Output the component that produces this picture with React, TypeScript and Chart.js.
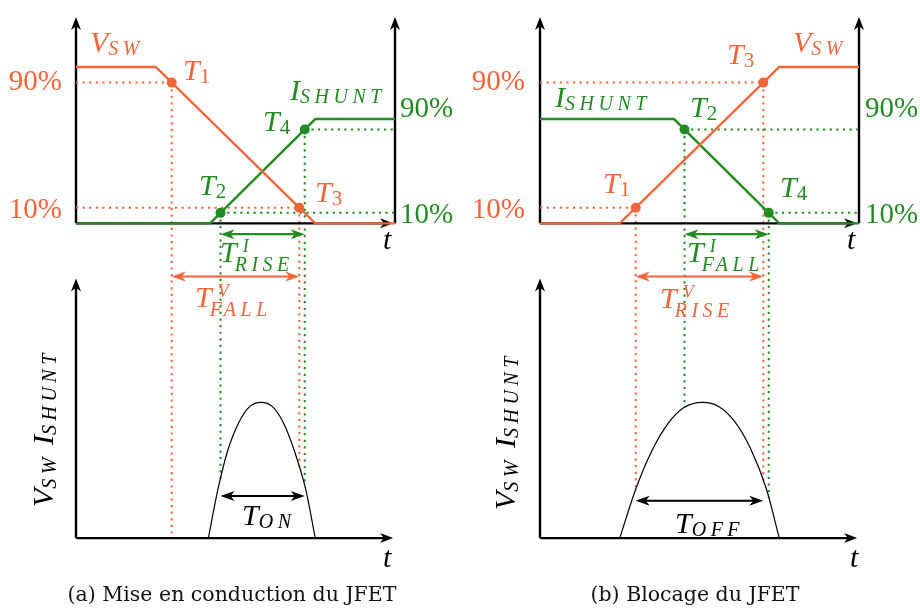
import React, { useEffect, useRef } from "react";
import { Chart, registerables } from "chart.js";

Chart.register(...registerables);

const ORANGE = "#F26539";
const GREEN = "#228B22";
const BLACK = "#000000";

// time axis (arbitrary units)
const TIME_MIN = 0;
const TIME_MAX = 10;
const LEVEL_LABELS = ["90%", "10%"];

// ---------- (a) Mise en conduction ----------
const onVswTime = [0, 2.5, 7.5, 10];
const onVswLevel = [1, 1, 0, 0];
const onIshuntTime = [0, 4.2, 7.5, 10];
const onIshuntLevel = [0, 0, 0.667, 0.667];
const onMarkNames = ["1", "2", "3", "4"];
const onMarkTime = [3.0, 4.53, 7.0, 7.17];
const onMarkLevel = [0.9, 0.067, 0.1, 0.6];
const onMarkSignal = ["V", "I", "V", "I"];
const onLossTime = [4.15, 4.45, 4.75, 5.1, 5.45, 5.8, 6.15, 6.5, 6.85, 7.2, 7.5];
const onLossLevel = [0, 0.36, 0.64, 0.85, 0.97, 1, 0.97, 0.85, 0.64, 0.36, 0];

// ---------- (b) Blocage ----------
const offVswTime = [0, 2.5, 7.5, 10];
const offVswLevel = [0, 0, 1, 1];
const offIshuntTime = [0, 4.2, 7.5, 10];
const offIshuntLevel = [0.667, 0.667, 0, 0];
const offMarkNames = ["1", "2", "3", "4"];
const offMarkTime = [3.0, 4.53, 7.0, 7.17];
const offMarkLevel = [0.1, 0.6, 0.9, 0.067];
const offMarkSignal = ["V", "I", "V", "I"];
const offLossTime = [2.5, 3.0, 3.5, 4.0, 4.5, 5.1, 5.6, 6.1, 6.6, 7.1, 7.5];
const offLossLevel = [0, 0.36, 0.64, 0.84, 0.96, 1, 0.97, 0.86, 0.66, 0.36, 0];

const SERIF = "'Liberation Serif', serif";
const MAIN = 30;
const SUBSZ = 20;
const SUPSZ = 18;

function setFont(ctx: CanvasRenderingContext2D, size: number, italic: boolean) {
  ctx.font = `${italic ? "italic " : ""}${size}px ${SERIF}`;
}

function drawSym(
  ctx: CanvasRenderingContext2D,
  x: number,
  y: number,
  base: string,
  sub: string | undefined,
  sup: string | undefined,
  color: string
): number {
  ctx.save();
  ctx.fillStyle = color;
  ctx.textAlign = "left";
  ctx.textBaseline = "alphabetic";
  (ctx as any).letterSpacing = "0px";
  setFont(ctx, MAIN, true);
  ctx.fillText(base, x, y);
  const w = ctx.measureText(base).width;
  let end = x + w;
  if (sup) {
    setFont(ctx, SUPSZ, true);
    const ux = x + w + 6;
    ctx.fillText(sup, ux, y - 10);
    end = Math.max(end, ux + ctx.measureText(sup).width);
  }
  if (sub) {
    const digit = /^[0-9]+$/.test(sub);
    setFont(ctx, digit ? 21 : SUBSZ, !digit);
    (ctx as any).letterSpacing = digit ? "0px" : "4.5px";
    const sx = x + w + (sup ? -2 : 0);
    ctx.fillText(sub, sx, y + (sup ? 9 : 3));
    end = Math.max(end, sx + ctx.measureText(sub).width);
  }
  ctx.restore();
  return end - x;
}

function drawHead(
  ctx: CanvasRenderingContext2D,
  x: number,
  y: number,
  ux: number,
  uy: number,
  len = 13,
  half = 5
) {
  const px = -uy;
  const py = ux;
  ctx.beginPath();
  ctx.moveTo(x, y);
  ctx.lineTo(x - ux * len + px * half, y - uy * len + py * half);
  ctx.lineTo(x - ux * len * 0.72, y - uy * len * 0.72);
  ctx.lineTo(x - ux * len - px * half, y - uy * len - py * half);
  ctx.closePath();
  ctx.fill();
}

function interp(ts: number[], vs: number[], t: number) {
  if (t <= ts[0] || t >= ts[ts.length - 1]) return 0;
  for (let i = 0; i < ts.length - 1; i++) {
    if (t >= ts[i] && t <= ts[i + 1]) {
      const f = (t - ts[i]) / (ts[i + 1] - ts[i]);
      return vs[i] + f * (vs[i + 1] - vs[i]);
    }
  }
  return 0;
}

type Panel = {
  id: string;
  padLeft: number;
  padRight: number;
  vTime: number[];
  vLevel: number[];
  iTime: number[];
  iLevel: number[];
  markNames: string[];
  markTime: number[];
  markLevel: number[];
  markSignal: string[];
  lossTime: number[];
  lossLevel: number[];
  iArrow: { from: number; to: number; level: number; sub: string; at: [number, number] };
  vArrow: { from: number; to: number; level: number; sub: string; at: [number, number] };
  lossArrow: { from: number; to: number; level: number; sub: string; at: [number, number] };
  markLabelAt: [number, number][];
  vNameAt: [number, number];
  iNameAt: [number, number];
  pctVx: number;
  pctIx: number;
  pctVy: number[];
  pctIy: number[];
  tTopAt: [number, number];
  tBotAt: [number, number];
  yLabelAt: [number, number];
  caption: string;
  captionX: number;
};

const panels: Panel[] = [
  {
    id: "a",
    padLeft: 76,
    padRight: 65,
    vTime: onVswTime,
    vLevel: onVswLevel,
    iTime: onIshuntTime,
    iLevel: onIshuntLevel,
    markNames: onMarkNames,
    markTime: onMarkTime,
    markLevel: onMarkLevel,
    markSignal: onMarkSignal,
    lossTime: onLossTime,
    lossLevel: onLossLevel,
    iArrow: { from: 1, to: 3, level: -0.069, sub: "RISE", at: [220, 262] },
    vArrow: { from: 0, to: 2, level: -0.34, sub: "FALL", at: [195, 307] },
    lossArrow: { from: 1, to: 3, level: 0.31, sub: "ON", at: [242, 525] },
    markLabelAt: [
      [183, 80],
      [199, 195],
      [315, 202],
      [263, 131],
    ],
    vNameAt: [90, 52],
    iNameAt: [290, 100],
    pctVx: 62,
    pctIx: 400,
    pctVy: [90, 218],
    pctIy: [117, 223],
    tTopAt: [383, 249],
    tBotAt: [383, 567],
    yLabelAt: [53, 507],
    caption: "(a) Mise en conduction du JFET",
    captionX: 232,
  },
  {
    id: "b",
    padLeft: 80,
    padRight: 61,
    vTime: offVswTime,
    vLevel: offVswLevel,
    iTime: offIshuntTime,
    iLevel: offIshuntLevel,
    markNames: offMarkNames,
    markTime: offMarkTime,
    markLevel: offMarkLevel,
    markSignal: offMarkSignal,
    lossTime: offLossTime,
    lossLevel: offLossLevel,
    iArrow: { from: 1, to: 3, level: -0.069, sub: "FALL", at: [227, 262] },
    vArrow: { from: 0, to: 2, level: -0.34, sub: "RISE", at: [200, 308] },
    lossArrow: { from: 0, to: 2, level: 0.275, sub: "OFF", at: [215, 533] },
    markLabelAt: [
      [143, 193],
      [230, 117],
      [267, 64],
      [320, 197],
    ],
    vNameAt: [333, 52],
    iNameAt: [95, 107],
    pctVx: 65,
    pctIx: 405,
    pctVy: [90, 218],
    pctIy: [117, 223],
    tTopAt: [387, 249],
    tBotAt: [390, 567],
    yLabelAt: [55, 510],
    caption: "(b) Blocage du JFET",
    captionX: 235,
  },
];

function makePlugin(p: Panel) {
  return {
    id: "switching_" + p.id,
    beforeDatasetsDraw(chart: any) {
      const ctx: CanvasRenderingContext2D = chart.ctx;
      const x = chart.scales.x;
      const yT = chart.scales.yTop;
      const yB = chart.scales.yBot;
      ctx.save();
      ctx.lineWidth = 2;
      ctx.setLineDash([2.2, 4.4]);
      p.markTime.forEach((t, i) => {
        ctx.strokeStyle = p.markSignal[i] === "V" ? ORANGE : GREEN;
        const px = x.getPixelForValue(t);
        ctx.beginPath();
        ctx.moveTo(px, yT.getPixelForValue(p.markLevel[i]));
        ctx.lineTo(px, yB.getPixelForValue(interp(p.lossTime, p.lossLevel, t)));
        ctx.stroke();
      });
      ctx.restore();

      ctx.save();
      ctx.strokeStyle = BLACK;
      ctx.fillStyle = BLACK;
      ctx.lineWidth = 2.4;
      const x0 = x.getPixelForValue(TIME_MIN);
      const x1 = x.getPixelForValue(TIME_MAX);
      const xTip = x.getPixelForValue(9.94);
      const yTop0 = yT.getPixelForValue(0);
      const yTopTip = yT.getPixelForValue(1.32);
      const yBot0 = yB.getPixelForValue(0);
      const yBotTip = yB.getPixelForValue(1.913);
      const line = (ax: number, ay: number, bx: number, by: number) => {
        ctx.beginPath();
        ctx.moveTo(ax, ay);
        ctx.lineTo(bx, by);
        ctx.stroke();
      };
      line(x0, yTop0, x0, yTopTip + 8);
      drawHead(ctx, x0, yTopTip, 0, -1);
      line(x1, yTop0, x1, yTopTip + 8);
      drawHead(ctx, x1, yTopTip, 0, -1);
      line(x0, yTop0, xTip - 8, yTop0);
      drawHead(ctx, xTip, yTop0, 1, 0);
      line(x0, yBot0, x0, yBotTip + 8);
      drawHead(ctx, x0, yBotTip, 0, -1);
      line(x0, yBot0, xTip - 8, yBot0);
      drawHead(ctx, xTip, yBot0, 1, 0);
      ctx.restore();
    },
    afterDatasetsDraw(chart: any) {
      const ctx: CanvasRenderingContext2D = chart.ctx;
      const x = chart.scales.x;
      const yT = chart.scales.yTop;
      const yB = chart.scales.yBot;

      const dim = (a: { from: number; to: number; level: number }, scale: any, color: string) => {
        const xa = x.getPixelForValue(p.markTime[a.from]);
        const xb = x.getPixelForValue(p.markTime[a.to]);
        const yy = scale.getPixelForValue(a.level);
        ctx.save();
        ctx.strokeStyle = color;
        ctx.fillStyle = color;
        ctx.lineWidth = 2.2;
        ctx.beginPath();
        ctx.moveTo(xa + 8, yy);
        ctx.lineTo(xb - 8, yy);
        ctx.stroke();
        drawHead(ctx, xa, yy, -1, 0, 14, 5);
        drawHead(ctx, xb, yy, 1, 0, 14, 5);
        ctx.restore();
      };
      dim(p.iArrow, yT, GREEN);
      dim(p.vArrow, yT, ORANGE);
      dim(p.lossArrow, yB, BLACK);

      drawSym(ctx, p.vNameAt[0], p.vNameAt[1], "V", "SW", undefined, ORANGE);
      drawSym(ctx, p.iNameAt[0], p.iNameAt[1], "I", "SHUNT", undefined, GREEN);
      p.markNames.forEach((n, i) => {
        const c = p.markSignal[i] === "V" ? ORANGE : GREEN;
        drawSym(ctx, p.markLabelAt[i][0], p.markLabelAt[i][1], "T", n, undefined, c);
      });
      drawSym(ctx, p.iArrow.at[0], p.iArrow.at[1], "T", p.iArrow.sub, "I", GREEN);
      drawSym(ctx, p.vArrow.at[0], p.vArrow.at[1], "T", p.vArrow.sub, "V", ORANGE);
      drawSym(ctx, p.lossArrow.at[0], p.lossArrow.at[1], "T", p.lossArrow.sub, undefined, BLACK);
      drawSym(ctx, p.tTopAt[0], p.tTopAt[1], "t", undefined, undefined, BLACK);
      drawSym(ctx, p.tBotAt[0], p.tBotAt[1], "t", undefined, undefined, BLACK);

      ctx.save();
      ctx.textBaseline = "alphabetic";
      setFont(ctx, 29, false);
      LEVEL_LABELS.forEach((txt, i) => {
        ctx.fillStyle = ORANGE;
        ctx.textAlign = "right";
        ctx.fillText(txt, p.pctVx, p.pctVy[i]);
        ctx.fillStyle = GREEN;
        ctx.textAlign = "left";
        ctx.fillText(txt, p.pctIx, p.pctIy[i]);
      });
      ctx.restore();

      ctx.save();
      ctx.translate(p.yLabelAt[0], p.yLabelAt[1]);
      ctx.rotate(-Math.PI / 2);
      const w1 = drawSym(ctx, 0, 0, "V", "SW", undefined, BLACK);
      drawSym(ctx, w1 + 8, 0, "I", "SHUNT", undefined, BLACK);
      ctx.restore();

      ctx.save();
      ctx.fillStyle = "#111111";
      ctx.textAlign = "center";
      ctx.textBaseline = "alphabetic";
      ctx.font = "20.5px 'DejaVu Serif', serif";
      ctx.fillText(p.caption, p.captionX, 601);
      ctx.restore();
    },
  };
}

function buildConfig(p: Panel): any {
  const pts = (ts: number[], vs: number[]) => ts.map((t, i) => ({ x: t, y: vs[i] }));
  const guides = p.markTime.map((t, i) => {
    const isV = p.markSignal[i] === "V";
    const lv = p.markLevel[i];
    return {
      data: isV ? [{ x: TIME_MIN, y: lv }, { x: t, y: lv }] : [{ x: t, y: lv }, { x: TIME_MAX, y: lv }],
      borderColor: isV ? ORANGE : GREEN,
      borderWidth: 2,
      borderDash: [2.2, 4.4],
      pointRadius: 0,
      yAxisID: "yTop",
      tension: 0,
    };
  });
  return {
    type: "line",
    data: {
      datasets: [
        {
          data: pts(p.markTime, p.markLevel),
          showLine: false,
          pointRadius: 5,
          pointBorderWidth: 0,
          pointBackgroundColor: p.markSignal.map((s) => (s === "V" ? ORANGE : GREEN)),
          yAxisID: "yTop",
        },
        {
          data: pts(p.vTime, p.vLevel),
          borderColor: ORANGE,
          borderWidth: 2.4,
          pointRadius: 0,
          tension: 0,
          yAxisID: "yTop",
        },
        {
          data: pts(p.iTime, p.iLevel),
          borderColor: GREEN,
          borderWidth: 2.4,
          pointRadius: 0,
          tension: 0,
          yAxisID: "yTop",
        },
        {
          data: pts(p.lossTime, p.lossLevel),
          borderColor: BLACK,
          borderWidth: 1.2,
          pointRadius: 0,
          cubicInterpolationMode: "monotone",
          yAxisID: "yBot",
        },
        ...guides,
      ],
    },
    options: {
      responsive: false,
      maintainAspectRatio: false,
      animation: false,
      devicePixelRatio: 1,
      events: [],
      layout: { padding: { left: p.padLeft, right: p.padRight, top: 0, bottom: 0 } },
      plugins: { legend: { display: false }, tooltip: { enabled: false } },
      scales: {
        x: { type: "linear", min: TIME_MIN, max: TIME_MAX, display: false },
        yTop: { type: "linear", min: -2.4277, max: 1.3962, display: false },
        yBot: { type: "linear", min: -0.4783, max: 3.9275, display: false },
      },
    },
    plugins: [makePlugin(p)],
  };
}

export default function App() {
  const refA = useRef<HTMLCanvasElement | null>(null);
  const refB = useRef<HTMLCanvasElement | null>(null);
  useEffect(() => {
    document.body.style.margin = "0";
    const charts: Chart[] = [];
    let alive = true;
    const build = () => {
      if (!alive) return;
      [refA.current, refB.current].forEach((c, i) => {
        if (c) charts.push(new Chart(c, buildConfig(panels[i])));
      });
    };
    const fonts: any = (document as any).fonts;
    if (fonts && fonts.load) {
      Promise.all([
        fonts.load("italic 30px 'Liberation Serif'"),
        fonts.load("30px 'Liberation Serif'"),
        fonts.load("20px 'DejaVu Serif'"),
      ])
        .catch(() => null)
        .then(build);
    } else {
      build();
    }
    return () => {
      alive = false;
      charts.forEach((c) => c.destroy());
    };
  }, []);
  const cs: React.CSSProperties = { position: "absolute", top: 0, width: 460, height: 608 };
  return (
    <div style={{ position: "fixed", left: 0, top: 0, width: 920, height: 608, background: "#fff" }}>
      <canvas ref={refA} width={460} height={608} style={{ ...cs, left: 0 }} />
      <canvas ref={refB} width={460} height={608} style={{ ...cs, left: 460 }} />
    </div>
  );
}
